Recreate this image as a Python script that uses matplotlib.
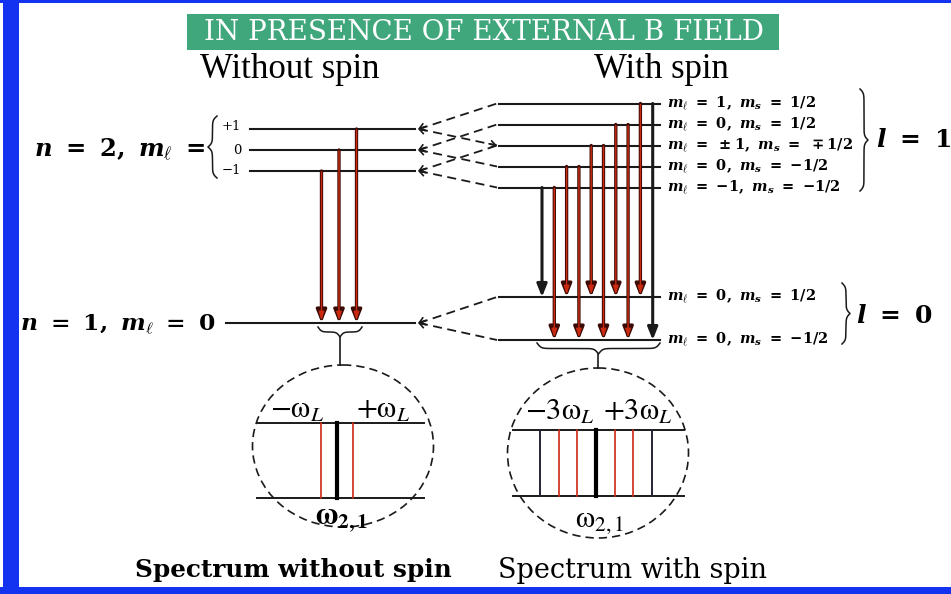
import numpy as np
import matplotlib.pyplot as plt
from matplotlib.patches import Rectangle, Ellipse

plt.rcParams["mathtext.fontset"] = "custom"
plt.rcParams["mathtext.rm"] = "DejaVu Serif:bold"
plt.rcParams["mathtext.bf"] = "DejaVu Serif:bold"
plt.rcParams["mathtext.it"] = "DejaVu Serif:italic:bold"

W, H = 951, 594

# --- level data -------------------------------------------------------
# n = 2 without spin: m_l values and their labels
n2_ml = [1, 0, -1]
n2_labels = ["+1", "0", "\u22121"]

# n = 2 with spin: shift = m_l + 2 m_s
spin_up_shift = [2, 1, 0, -1, -2]
spin_up_labels = [
    r"$m_\ell\ =\ 1,\ m_s\ =\ 1/2$",
    r"$m_\ell\ =\ 0,\ m_s\ =\ 1/2$",
    r"$m_\ell\ =\ \pm1,\ m_s\ =\ \mp1/2$",
    r"$m_\ell\ =\ 0,\ m_s\ =\ {-}1/2$",
    r"$m_\ell\ =\ {-}1,\ m_s\ =\ {-}1/2$",
]
# n = 1 with spin: shift = 2 m_s
spin_low_shift = [1, -1]
spin_low_labels = [
    r"$m_\ell\ =\ 0,\ m_s\ =\ 1/2$",
    r"$m_\ell\ =\ 0,\ m_s\ =\ {-}1/2$",
]

# transitions with spin: (upper level index, lower level index, colour)
spin_trans = [(4, 0, "k"), (4, 1, "r"), (3, 0, "r"), (3, 1, "r"), (2, 0, "r"),
              (2, 1, "r"), (1, 0, "r"), (1, 1, "r"), (0, 0, "r"), (0, 1, "k")]
# dashed links: left m_l index -> right spin level indices
links = {0: [0, 2], 1: [1, 3], 2: [2, 4]}

# spectra, in units of omega_L
spec_plain = [-1, 0, 1]
spec_plain_col = ["r", "k", "r"]
spec_spin = [-3, -2, -1, 0, 1, 2, 3]
spec_spin_col = ["k", "r", "r", "k", "r", "r", "k"]

RED = "#cc2a10"
DARK = "#3c0a04"
INK = "#1a1a1a"

fig = plt.figure(figsize=(W / 100, H / 100), dpi=100)
ax = fig.add_axes([0, 0, 1, 1])
ax.set_xlim(0, W)
ax.set_ylim(H, 0)
ax.axis("off")


def brace(x0, x1, y, h, vertical=False, b=0.45):
    # curly brace along x0..x1, bulging by h (sign gives direction)
    half = (x1 - x0) / 2
    s = np.linspace(0, half, 200)
    f = 1 / (1 + np.exp(-b * s)) + 1 / (1 + np.exp(-b * (s - half))) - 0.5
    f = np.concatenate([f, f[::-1]])
    t = np.concatenate([x0 + s, x1 - s[::-1]])
    off = y + f * h
    if vertical:
        ax.plot(off, t, color=INK, lw=1.1)
    else:
        ax.plot(t, off, color=INK, lw=1.1)


def red_arrow(x, y0, y1):
    ax.annotate("", xy=(x, y1), xytext=(x, y0),
                arrowprops=dict(arrowstyle="-|>,head_length=0.75,head_width=0.3",
                                color=DARK, lw=2.4, shrinkA=0, shrinkB=0))
    ax.annotate("", xy=(x, y1 - 2.5), xytext=(x, y0 + 1),
                arrowprops=dict(arrowstyle="-|>,head_length=0.5,head_width=0.16",
                                color=RED, lw=1.0, shrinkA=0, shrinkB=0))


def black_arrow(x, y0, y1):
    ax.annotate("", xy=(x, y1), xytext=(x, y0),
                arrowprops=dict(arrowstyle="-|>,head_length=0.75,head_width=0.3",
                                color=INK, lw=2.2, shrinkA=0, shrinkB=0))


def chevron(tip, other):
    ax.annotate("", xy=tip, xytext=other,
                arrowprops=dict(arrowstyle="->,head_length=0.35,head_width=0.25",
                                color=INK, lw=1.2, shrinkA=0, shrinkB=0))


# frame and title
ax.add_patch(Rectangle((3, 0), 16, H, color="#1433f0", lw=0))
ax.add_patch(Rectangle((0, 0), W, 3, color="#1433f0", lw=0))
ax.add_patch(Rectangle((0, 587), W, 7, color="#1433f0", lw=0))
ax.add_patch(Rectangle((187, 14), 592, 36, color="#3fa77b", lw=0))
ax.text(484, 33, "IN PRESENCE OF EXTERNAL B FIELD", color="white",
        family="DejaVu Serif", size=20, ha="center", va="center")
ax.text(290, 70, "Without spin", family="Liberation Serif", size=25,
        ha="center", va="center")
ax.text(661, 70, "With spin", family="Liberation Serif", size=25,
        ha="center", va="center")

# --- without spin -----------------------------------------------------
n2_c, step_l = 150, 21
n2_y = [n2_c - step_l * m for m in n2_ml]
n1_y = 323
for y, lab in zip(n2_y, n2_labels):
    ax.plot([250, 415], [y, y], color=INK, lw=1.5)
    ax.text(241, y - 3 if lab == "+1" else y, lab, family="DejaVu Serif",
            size=9.5, ha="right", va="center")
ax.plot([226, 415], [n1_y, n1_y], color=INK, lw=1.5)
brace(116, 178, 217, -9, vertical=True, b=0.5)
ax.text(205, 150, r"$n\ =\ 2,\ m_\ell\ =$", size=17.5, ha="right", va="center")
ax.text(216, 325, r"$n\ =\ 1,\ m_\ell\ =\ 0$", size=16.8, ha="right", va="center")

for m, y in zip(n2_ml, n2_y):
    red_arrow(339 + 17.5 * m, y, n1_y)
brace(318, 362, 327, 10, b=0.6)
ax.plot([340, 340], [337, 365], color=INK, lw=1.2)

# --- with spin --------------------------------------------------------
up_c, low_c = 145.5, 318.5
up_y = [up_c - 21 * s for s in spin_up_shift]
low_y = [low_c - 21.5 * s for s in spin_low_shift]
for y, lab in zip(up_y + low_y, spin_up_labels + spin_low_labels):
    ax.plot([499, 660], [y, y], color=INK, lw=1.5)
    ax.text(667, y, lab, size=10.5, ha="left", va="center")

for i, y in enumerate(n2_y):
    for j in links[i]:
        ax.plot([419, 497], [y, up_y[j]], color=INK, lw=1.3, ls=(0, (5, 3)))
        chevron((418, y), (426, y + (up_y[j] - y) * 8 / 78))
chevron((497, up_y[2]), (489, up_y[2] - (up_y[2] - n2_y[0]) * 8 / 78))
for yl in low_y:
    ax.plot([419, 497], [n1_y, yl], color=INK, lw=1.3, ls=(0, (5, 3)))
    chevron((418, n1_y), (426, n1_y + (yl - n1_y) * 8 / 78))

for k, (i, j, c) in enumerate(spin_trans):
    x = 542 + 12.3 * k
    if c == "r":
        red_arrow(x, up_y[i], low_y[j])
    else:
        black_arrow(x, up_y[i], low_y[j])

brace(89, 191, 860, 8, vertical=True, b=0.5)
brace(283, 344, 842, 8, vertical=True, b=0.5)
ax.text(876, 140, r"$l\ =\ \mathrm{1}$", size=18, ha="left", va="center")
ax.text(856, 316, r"$l\ =\ \mathrm{0}$", size=18, ha="left", va="center")

brace(537, 660, 343, 11, b=0.5)
ax.plot([598, 598], [354, 368], color=INK, lw=1.2)


# --- spectra ----------------------------------------------------------
def spectrum(cx, cy, w, h, y_top, y_bot, x0, x1, centre, step, offs, cols):
    ax.add_patch(Ellipse((cx, cy), w, h, fill=False, ec=INK, lw=1.2, ls=(0, (5, 3))))
    ax.plot([x0, x1], [y_top, y_top], color=INK, lw=1.4)
    ax.plot([x0, x1], [y_bot, y_bot], color=INK, lw=1.4)
    for o, c in zip(offs, cols):
        if o == 0:
            lw, col = 3.0, "k"
        elif c == "k":
            lw, col = 1.4, "#223"
        else:
            lw, col = 1.2, RED
        ax.plot([centre + step * o] * 2, [y_top, y_bot], color=col, lw=lw)


spectrum(343, 446, 181, 162, 423, 498, 257, 424, 337, 16, spec_plain, spec_plain_col)
spectrum(598, 453, 181, 170, 430, 496, 513, 684, 596, 18.7, spec_spin, spec_spin_col)

mt = dict(math_fontfamily="stix", size=22, va="center", ha="center")
ax.text(297, 410, r"$\mathrm{-\omega}_L$", **mt)
ax.text(383, 410, r"$\mathrm{+\omega}_L$", **mt)
ax.text(342, 519, r"$\mathbf{\omega}_{\mathbf{2,1}}$", **mt)
ax.text(560, 412, r"$\mathrm{-3\omega}_L$", **mt)
ax.text(638, 412, r"$\mathrm{+3\omega}_L$", **mt)
ax.text(600, 522, r"$\mathrm{\omega}_{2,1}$", **mt)

ax.text(293, 570, "Spectrum without spin", family="DejaVu Serif", weight="bold",
        size=17.8, ha="center", va="center")
ax.text(633, 570, "Spectrum with spin", family="DejaVu Serif", size=19.5,
        ha="center", va="center")

fig.savefig("out.png", dpi=100)
